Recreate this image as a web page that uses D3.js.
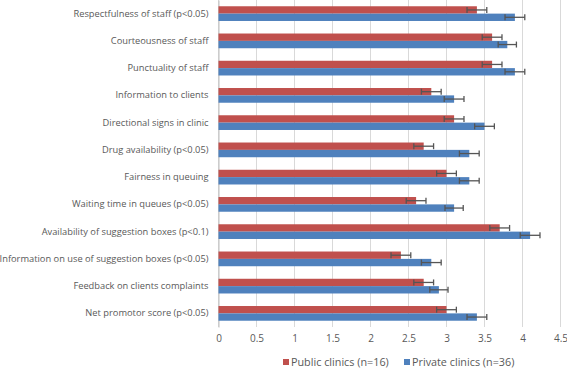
<html>
  <head>
    <meta charset="utf-8" />
    <script src="https://cdnjs.cloudflare.com/ajax/libs/d3/7.6.1/d3.min.js"></script>
    <style>
      body { margin: 0; background: #fff; }
      svg { font-family: "Open Sans", sans-serif; }
    </style>
  </head>
  <body>
    <svg width="567" height="368"></svg>
  </body>
  <script>
    const categories = [
      "Respectfulness of staff (p<0.05)",
      "Courteousness of staff",
      "Punctuality of staff",
      "Information to clients",
      "Directional signs in clinic",
      "Drug availability (p<0.05)",
      "Fairness in queuing",
      "Waiting time in queues (p<0.05)",
      "Availability of suggestion boxes (p<0.1)",
      "Information on use of suggestion boxes (p<0.05)",
      "Feedback on clients complaints",
      "Net promotor score (p<0.05)"
    ];
    const publicValues = [3.4, 3.6, 3.6, 2.8, 3.1, 2.7, 3.0, 2.6, 3.7, 2.4, 2.7, 3.0];
    const publicErrors = [0.13, 0.13, 0.13, 0.13, 0.13, 0.13, 0.13, 0.13, 0.13, 0.13, 0.13, 0.13];
    const privateValues = [3.9, 3.8, 3.9, 3.1, 3.5, 3.3, 3.3, 3.1, 4.1, 2.8, 2.9, 3.4];
    const privateErrors = [0.13, 0.12, 0.13, 0.13, 0.13, 0.13, 0.13, 0.12, 0.13, 0.13, 0.12, 0.13];
    const xTicks = [0, 0.5, 1, 1.5, 2, 2.5, 3, 3.5, 4, 4.5];
    const seriesNames = ["Public clinics (n=16)", "Private clinics (n=36)"];
    const colors = ["#C0504D", "#4F81BD"];

    const svg = d3.select("svg");
    const x = d3.scaleLinear().domain([0, 4.5]).range([218.5, 560.5]);
    const y = d3.scaleBand().domain(categories).range([0, 327]).paddingInner(0.46).paddingOuter(0.23);
    const sub = d3.scaleBand().domain([0, 1]).range([0, y.bandwidth()]);

    // gridlines
    svg.append("g")
      .selectAll("line")
      .data(xTicks)
      .join("line")
      .attr("x1", (d) => x(d))
      .attr("x2", (d) => x(d))
      .attr("y1", 0)
      .attr("y2", 327)
      .attr("stroke", "#D9D9D9")
      .attr("stroke-width", 1);

    const xAxis = d3.axisBottom(x).tickValues(xTicks).tickSize(0).tickPadding(8).tickFormat(d3.format("~g"));
    const xg = svg.append("g").attr("transform", "translate(0,327)").call(xAxis);
    xg.select(".domain").remove();
    xg.selectAll("text").attr("fill", "#595959").style("font-size", "10px").style("font-family", "Open Sans");

    const yAxis = d3.axisLeft(y).tickSize(0).tickPadding(10);
    const yg = svg.append("g").attr("transform", `translate(${x(0)},0)`).call(yAxis);
    yg.select(".domain").attr("stroke", "#BFBFBF");
    yg.selectAll("text").attr("fill", "#595959").style("font-size", "9.3px").style("font-family", "Open Sans");

    const series = [
      { vals: publicValues, errs: publicErrors },
      { vals: privateValues, errs: privateErrors }
    ];

    series.forEach((s, i) => {
      const g = svg.append("g");
      g.selectAll("rect")
        .data(categories)
        .join("rect")
        .attr("x", x(0))
        .attr("y", (d) => y(d) + sub(i))
        .attr("width", (d, j) => x(s.vals[j]) - x(0))
        .attr("height", sub.bandwidth())
        .attr("fill", colors[i]);

      const eb = svg.append("g").attr("stroke", "#555").attr("stroke-width", 1.3);
      categories.forEach((c, j) => {
        const cy = y(c) + sub(i) + sub.bandwidth() / 2;
        const lo = x(s.vals[j] - s.errs[j]);
        const hi = x(s.vals[j] + s.errs[j]);
        eb.append("line").attr("x1", lo).attr("x2", hi).attr("y1", cy).attr("y2", cy);
        eb.append("line").attr("x1", lo).attr("x2", lo).attr("y1", cy - 3).attr("y2", cy + 3);
        eb.append("line").attr("x1", hi).attr("x2", hi).attr("y1", cy - 3).attr("y2", cy + 3);
      });
    });

    // legend
    const legendX = [283, 404];
    const legend = svg.append("g");
    seriesNames.forEach((name, i) => {
      legend.append("rect")
        .attr("x", legendX[i])
        .attr("y", 359)
        .attr("width", 6)
        .attr("height", 6)
        .attr("fill", colors[i]);
      legend.append("text")
        .attr("x", legendX[i] + 8)
        .attr("y", 366)
        .attr("fill", "#595959")
        .style("font-size", "10.8px")
        .text(name);
    });
  </script>
</html>
